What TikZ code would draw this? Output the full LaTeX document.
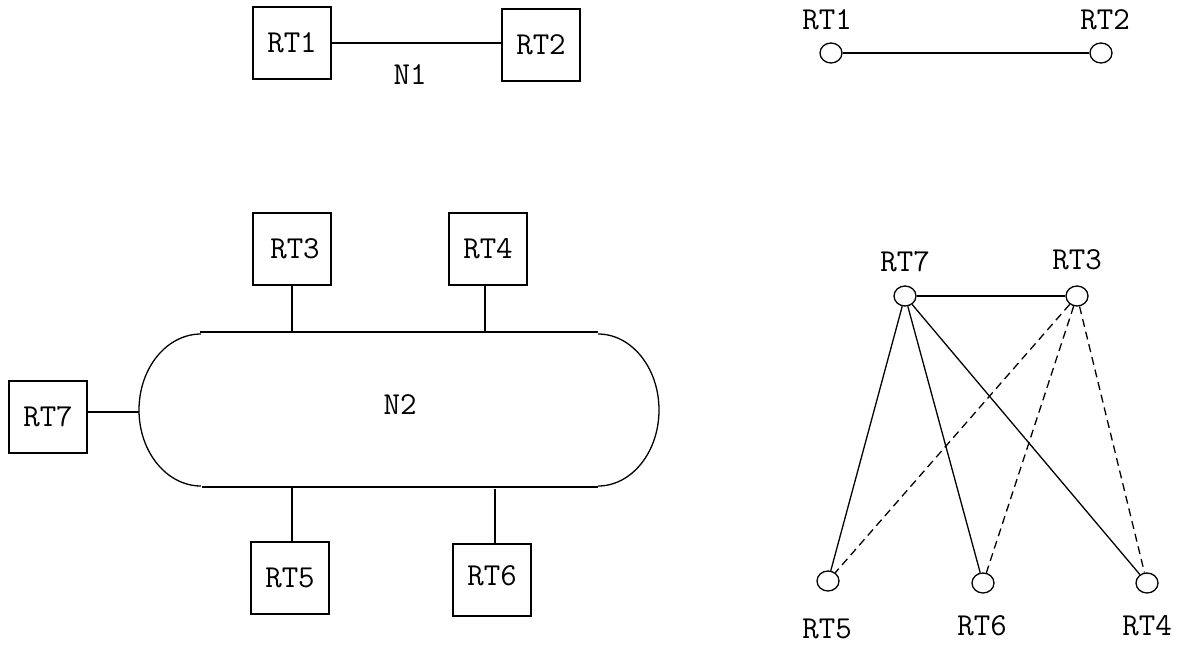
\documentclass[tikz,border=0pt]{standalone}
\usepackage{fontspec}
\usepackage{tikz}
\usetikzlibrary{positioning,shapes.geometric}

\begin{document}
\begin{tikzpicture}[x=1pt,y=-1pt,line width=1.3pt,
	rtbox/.style={draw,minimum width=78pt,minimum height=72pt,inner sep=0pt},
	vtx/.style={draw,ellipse,minimum width=22pt,minimum height=20pt,inner sep=0pt},
	lbl/.style={inner sep=0pt},
	lnk/.style={dash pattern=on 8pt off 5pt},
	font=\ttfamily\fontsize{32}{34}\selectfont]
	\useasboundingbox (0,0) rectangle (1177,645);
	% network N1
	\node[rtbox] (rt1) at (292,43) {RT1};
	\node[rtbox] (rt2) at (541,45) {RT2};
	\draw (rt1.east) -- (rt1.east -| rt2.west);
	\node[lbl] (n1) at (410,75) {N1};
	% network N2
	\node[rtbox] (rt3) at (292,249) {\hspace{6pt}RT3};
	\node[rtbox] (rt4) at (488,249) {RT4};
	\node[rtbox] (rt7) at (48,417) {RT7};
	\node[rtbox] (rt5) at (290,578) {RT5\hspace{6pt}};
	\node[rtbox] (rt6) at (492,580) {\raisebox{8pt}{RT6}};
	\node[lbl] (n2) at (400,405) {N2};
	\draw (200,332) -- (598,332);
	\draw (202,487) -- (598,487);
	\draw (201,334) arc[start angle=270,end angle=90,x radius=62,y radius=76];
	\draw (598,334) arc[start angle=270,end angle=450,x radius=61,y radius=76];
	\coordinate (b3) at (292,332);
	\coordinate (b4) at (485,332);
	\coordinate (b7) at (139,412);
	\coordinate (b5) at (292,487);
	\coordinate (b6) at (495,489);
	\draw (rt3.south -| b3) -- (b3);
	\draw (rt4.south -| b4) -- (b4);
	\draw (rt7.east |- b7) -- (b7);
	\draw (rt5.north -| b5) -- (b5);
	\draw (rt6.north -| b6) -- (b6);
	% graph of N1
	\node[vtx] (g1) at (831,53) {};
	\node[vtx] (g2) at (1101,53) {};
	\node[lbl] (l1) at (827,20) {RT1};
	\node[lbl] (l2) at (1105,20) {RT2};
	\draw (g1) -- (g2);
	% graph of N2
	\node[vtx] (g7) at (905,296) {};
	\node[vtx] (g3) at (1077,296) {};
	\node[vtx] (g5) at (828,581) {};
	\node[vtx] (g6) at (983,583) {};
	\node[vtx] (g4) at (1147,583) {};
	\node[lbl] (l7) at (905,262) {RT7};
	\node[lbl] (l3) at (1077,260) {RT3};
	\node[lbl] (l5) at (827,629) {RT5};
	\node[lbl] (l6) at (982,626) {RT6};
	\node[lbl] (l4) at (1147,626) {RT4};
	\draw (g7) -- (g3);
	\foreach \i in {5,6,4}{
		\draw (g7) -- (g\i);
		\draw[lnk] (g3) -- (g\i);
	}
\end{tikzpicture}
\end{document}
